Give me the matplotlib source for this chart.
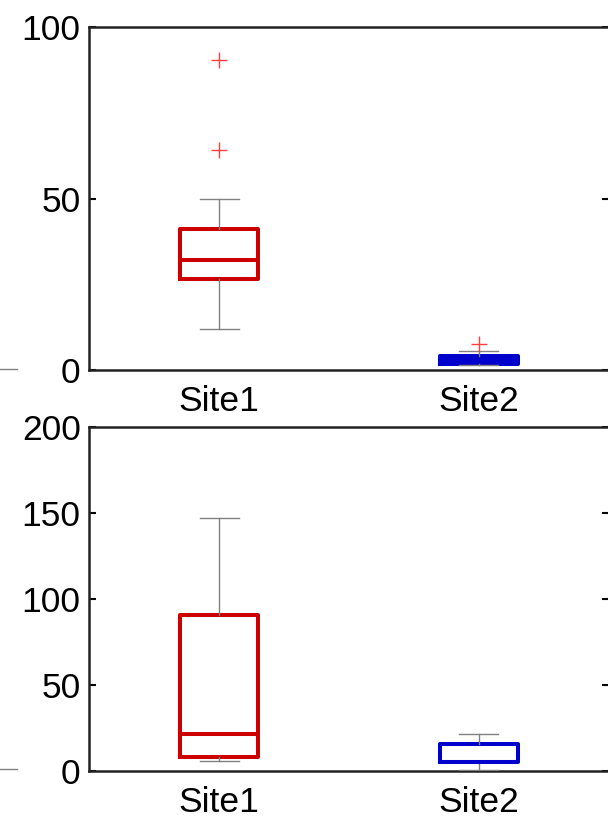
import matplotlib
matplotlib.use("Agg")
import matplotlib.pyplot as plt
from matplotlib.lines import Line2D

plt.rcParams['font.family'] = ['Liberation Sans', 'DejaVu Sans']

categories = ["Site1", "Site2"]
colors = ["#CC0000", "#0000CC"]

# Top panel stats
top_whislo = [12.0, 1.5]
top_q1 = [26.6, 1.9]
top_med = [32.0, 3.0]
top_q3 = [41.2, 4.2]
top_whishi = [49.9, 5.6]
top_fliers = [[64.1, 90.4], [7.6]]

# Bottom panel stats
bot_whislo = [5.8, 0.4]
bot_q1 = [8.2, 5.3]
bot_med = [21.2, 5.3]
bot_q3 = [90.7, 15.4]
bot_whishi = [146.8, 21.2]
bot_fliers = [[], []]


def make_stats(wl, q1, med, q3, wh, fl):
    return [dict(label=categories[i], whislo=wl[i], q1=q1[i], med=med[i],
                 q3=q3[i], whishi=wh[i], fliers=fl[i]) for i in range(len(categories))]


fig = plt.figure(figsize=(6.08, 8.23), dpi=100)
ax1 = fig.add_axes([0.1464, 0.5504, 0.8552, 0.4168])
ax2 = fig.add_axes([0.1464, 0.0636, 0.8552, 0.4176])


def draw(ax, stats, ylim, yticks):
    arts = ax.bxp(stats, positions=[1, 2], widths=0.3, showfliers=True,
                  boxprops=dict(linewidth=2.9),
                  medianprops=dict(linewidth=2.9),
                  whiskerprops=dict(color="#808080", linewidth=1.0, linestyle='-'),
                  capprops=dict(color="#808080", linewidth=1.0),
                  flierprops=dict(marker='+', markeredgecolor="#FF4040",
                                  markersize=11, markeredgewidth=1.0, linestyle='none'),
                  capwidths=0.15, zorder=3)
    for i, c in enumerate(colors):
        arts['boxes'][i].set_color(c)
        arts['medians'][i].set_color(c)
    ax.set_xlim(0.5, 2.5)
    ax.set_ylim(*ylim)
    ax.set_yticks(yticks)
    ax.set_xticks([1, 2])
    ax.set_xticklabels(categories)
    ax.tick_params(axis='y', direction='in', length=5, width=1.5, labelsize=25.5,
                   left=True, right=True, pad=6)
    ax.tick_params(axis='x', length=0, labelsize=25.5, pad=11)
    for s in ax.spines.values():
        s.set_linewidth(1.8)
        s.set_color("#222222")


draw(ax1, make_stats(top_whislo, top_q1, top_med, top_q3, top_whishi, top_fliers),
     (0, 100), [0, 50, 100])
draw(ax2, make_stats(bot_whislo, bot_q1, bot_med, bot_q3, bot_whishi, bot_fliers),
     (0, 200), [0, 50, 100, 150, 200])

# fragments of neighbouring panel at the left edge
fig.add_artist(Line2D([0.0, 0.028], [1 - 369 / 823, 1 - 369 / 823], color="#808080", lw=1.0))
fig.add_artist(Line2D([0.0, 0.028], [1 - 769 / 823, 1 - 769 / 823], color="#808080", lw=1.0))

fig.savefig("out.png", dpi=100)
